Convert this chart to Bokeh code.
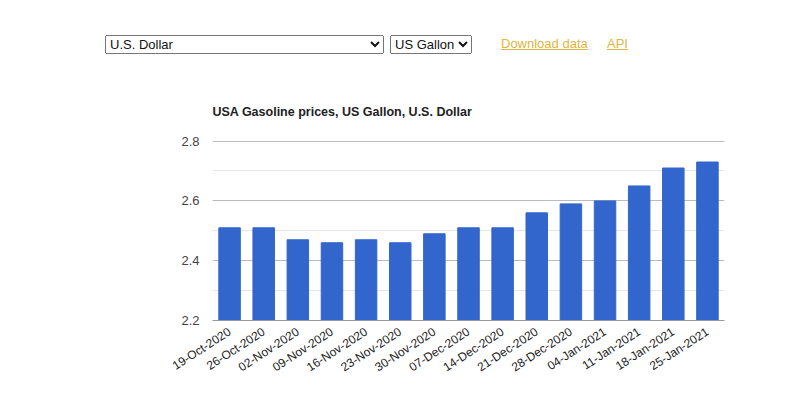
import math
from bokeh.plotting import figure
from bokeh.models import Range1d, FactorRange, FixedTicker, ColumnDataSource, Div
from bokeh.layouts import column
from bokeh.embed import file_html
from bokeh.resources import INLINE

# ---- data ----
dates = ["19-Oct-2020", "26-Oct-2020", "02-Nov-2020", "09-Nov-2020", "16-Nov-2020",
         "23-Nov-2020", "30-Nov-2020", "07-Dec-2020", "14-Dec-2020", "21-Dec-2020",
         "28-Dec-2020", "04-Jan-2021", "11-Jan-2021", "18-Jan-2021", "25-Jan-2021"]
prices = [2.51, 2.51, 2.47, 2.46, 2.47, 2.46, 2.49, 2.51, 2.51, 2.56,
          2.59, 2.60, 2.65, 2.71, 2.73]
y_ticks = [2.2, 2.4, 2.6, 2.8]
y_minor = [2.3, 2.5, 2.7]
title_text = "USA Gasoline prices, US Gallon, U.S. Dollar"
currency_label = "U.S. Dollar"
unit_label = "US Gallon"
link_labels = ["Download data", "API"]

W = 784

# ---- page header: selects and links ----
font_css = "font-family:Arial,'Liberation Sans',sans-serif;font-size:13px;"
link_css = f"position:absolute;top:35px;color:#e0b540;text-decoration:underline;{font_css}"
header_html = (
    f'<div style="position:relative;width:{W}px;height:72px;{font_css}">'
    f'<select style="position:absolute;left:105px;top:35px;width:279px;height:19px;{font_css}color:#111;">'
    f'<option>{currency_label}</option></select>'
    f'<select style="position:absolute;left:390px;top:35px;width:82px;height:19px;{font_css}color:#111;">'
    f'<option>{unit_label}</option></select>'
    f'<a href="#" style="left:501px;{link_css}">{link_labels[0]}</a>'
    f'<a href="#" style="left:607px;{link_css}">{link_labels[1]}</a>'
    '</div>'
)
hdr = Div(text=header_html, width=W, height=72, margin=(0, 0, 0, 0))

# ---- chart ----
src = ColumnDataSource(dict(d=dates, v=prices))
p = figure(width=W, height=316, x_range=FactorRange(*dates), y_range=Range1d(2.2, 2.802),
           output_backend="svg", toolbar_location=None, title=title_text,
           min_border_left=212, min_border_right=60, min_border_top=68, min_border_bottom=68)
p.outline_line_color = None
p.title.align = "left"
p.title.text_font = "Liberation Sans"
p.title.text_font_size = "12.5px"
p.title.text_font_style = "bold"
p.title.text_color = "#222"
p.title.standoff = 43

p.vbar(x="d", top="v", bottom=2.2, width=0.63, source=src,
       fill_color="#3366cc", line_color="#3366cc")

p.yaxis.ticker = FixedTicker(ticks=y_ticks, minor_ticks=y_minor)
p.yaxis.axis_line_color = None
p.yaxis.major_tick_line_color = None
p.yaxis.minor_tick_line_color = None
p.yaxis.major_label_text_font = "Liberation Sans"
p.yaxis.major_label_text_font_size = "13px"
p.yaxis.major_label_text_color = "#444"
p.yaxis.major_label_standoff = 7

p.xaxis.axis_line_color = "#999"
p.xaxis.major_tick_line_color = None
p.xaxis.minor_tick_line_color = None
p.xaxis.major_label_orientation = math.radians(33)
p.xaxis.major_label_text_font = "Liberation Sans"
p.xaxis.major_label_text_font_size = "12px"
p.xaxis.major_label_text_color = "#222"
p.xaxis.major_label_standoff = 4

p.xgrid.grid_line_color = None
p.ygrid.grid_line_color = "#bbbbbb"
p.ygrid.minor_grid_line_color = "#e6e6e6"

layout = column(hdr, p, spacing=0)
open("out.html", "w").write(file_html(layout, INLINE))
